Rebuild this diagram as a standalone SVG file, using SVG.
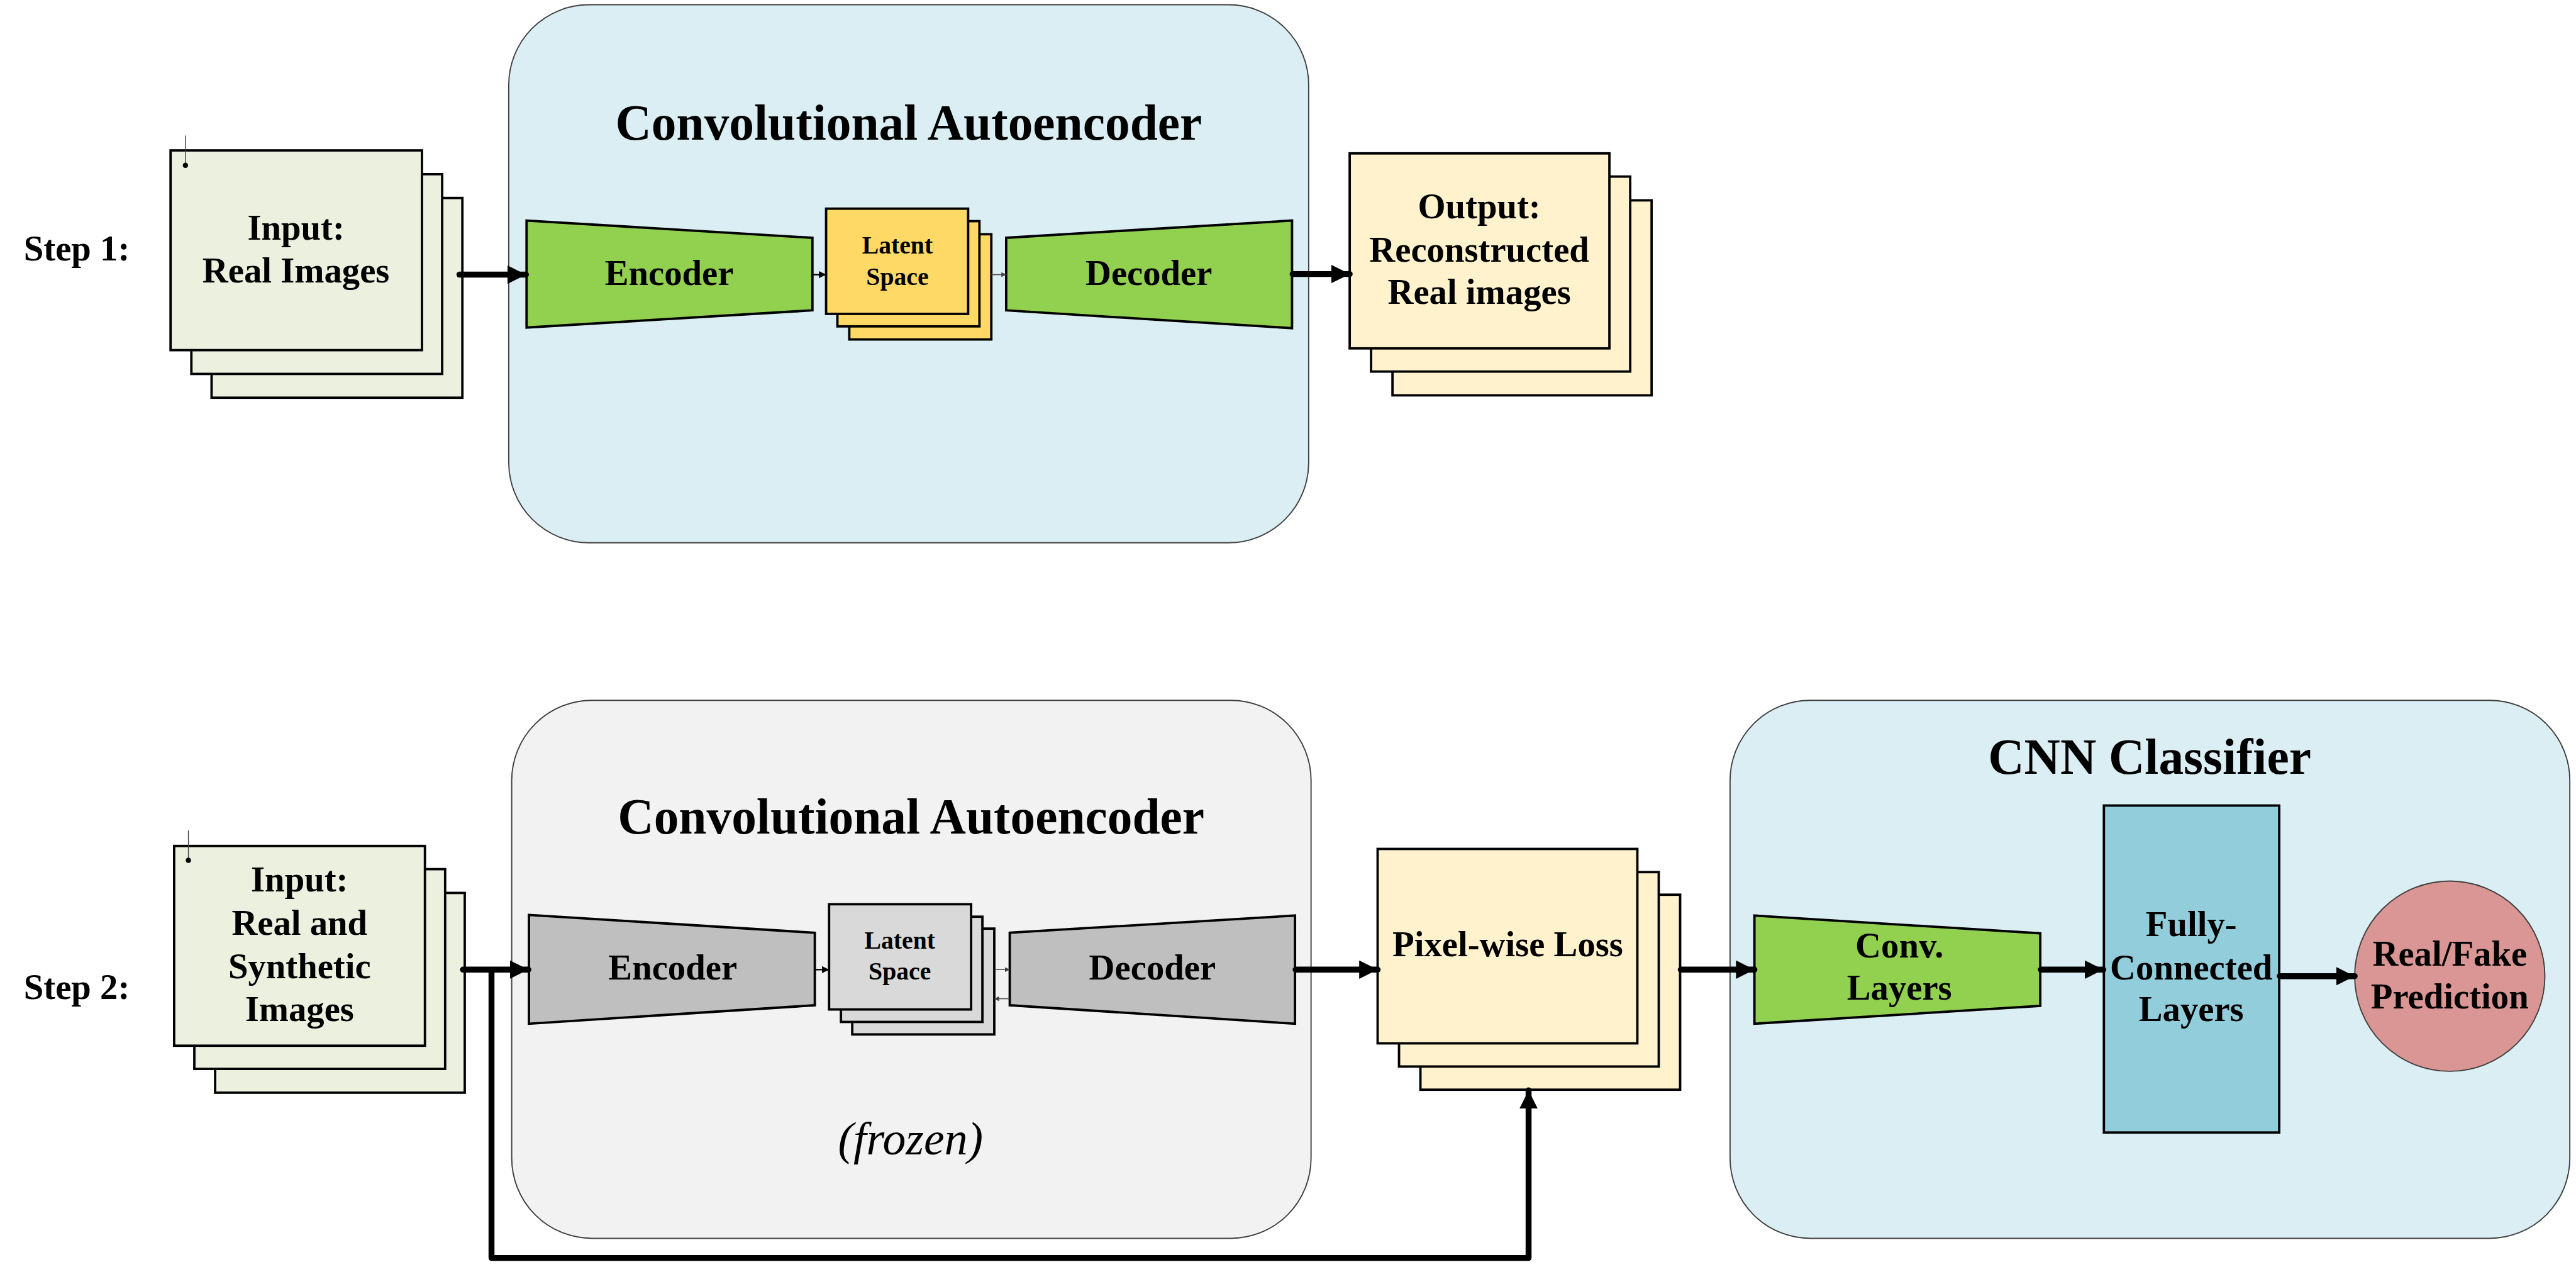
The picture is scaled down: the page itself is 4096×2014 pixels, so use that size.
<svg xmlns="http://www.w3.org/2000/svg" width="4096" height="2014" viewBox="0 0 4096 2014">
<style>
text{font-family:"Liberation Serif","Times New Roman",serif;font-weight:bold;fill:#000;text-anchor:middle}
.t60{font-size:60px}
.t84{font-size:84px}
.t42{font-size:42px}
.it{font-weight:normal;font-style:italic;font-size:78px}
.cont{stroke:#404040;stroke-width:2}
.box{stroke:#000;stroke-width:4;stroke-linejoin:miter}
.conn{fill:none;stroke:#000;stroke-width:10;stroke-linecap:round}
.small{fill:none;stroke:#000;stroke-width:2.5}
.tiny{fill:none;stroke:#404040;stroke-width:1.5}
.hair{fill:none;stroke:#404040;stroke-width:1.5}
</style>
<defs>
<marker id="ah" markerUnits="userSpaceOnUse" viewBox="0 0 31 31" refX="31" refY="15.5" markerWidth="31" markerHeight="31" orient="auto"><path d="M0,0 L31,15.5 L0,31 z" fill="#000"/></marker>
<marker id="ahs" markerUnits="userSpaceOnUse" viewBox="0 0 12 12" refX="12" refY="6" markerWidth="12" markerHeight="12" orient="auto"><path d="M0,0 L12,6 L0,12 z" fill="#000"/></marker>
<marker id="aht" markerUnits="userSpaceOnUse" viewBox="0 0 8 8" refX="8" refY="4" markerWidth="8" markerHeight="8" orient="auto"><path d="M0,0 L8,4 L0,8 z" fill="#404040"/></marker>
<marker id="dot" markerUnits="userSpaceOnUse" viewBox="0 0 10 10" refX="5" refY="5" markerWidth="10" markerHeight="10"><circle cx="5" cy="5" r="4.5" fill="#000"/></marker>
</defs>
<rect width="4096" height="2014" fill="#fff"/>
<g transform="scale(0.945)">
<!-- containers -->
<g id="cae1">
<rect x="856" y="8" width="1346" height="905" rx="135" ry="135" fill="#DAEEF3" class="cont"/>
<text class="t84" x="1529" y="235">Convolutional Autoencoder</text>
</g>
<g id="cae2">
<rect x="861" y="1178" width="1345" height="905" rx="135" ry="135" fill="#F2F2F2" class="cont"/>
<text class="t84" x="1533" y="1402">Convolutional Autoencoder</text>
<text class="it" x="1532" y="1942">(frozen)</text>
</g>
<g id="cnn">
<rect x="2911" y="1178" width="1413" height="905" rx="135" ry="135" fill="#DAEEF3" class="cont"/>
<text class="t84" x="3617" y="1302">CNN Classifier</text>
</g>
<!-- labels -->
<g id="step1"><text class="t60" x="40" y="438" style="text-anchor:start">Step 1:</text></g>
<g id="step2"><text class="t60" x="40" y="1680" style="text-anchor:start">Step 2:</text></g>
<!-- step 1 nodes -->
<g id="input1">
<rect x="356" y="333" width="422" height="336" fill="#EBF1DE" class="box"/>
<rect x="322" y="293" width="422" height="336" fill="#EBF1DE" class="box"/>
<rect x="287" y="253" width="423" height="336" fill="#EBF1DE" class="box"/>
<text class="t60" x="498" y="403">Input:</text>
<text class="t60" x="498" y="475">Real Images</text>
</g>
<g id="encoder1">
<polygon points="886,371 1367,400 1367,522 886,551" fill="#92D050" class="box"/>
<text class="t60" x="1126" y="479">Encoder</text>
</g>
<g id="latent1">
<rect x="1429" y="394" width="239" height="177" fill="#FFD966" class="box"/>
<rect x="1409" y="372" width="239" height="177" fill="#FFD966" class="box"/>
<rect x="1390" y="351" width="239" height="177" fill="#FFD966" class="box"/>
<text class="t42" x="1510" y="427">Latent</text>
<text class="t42" x="1510" y="479">Space</text>
</g>
<g id="decoder1">
<polygon points="1693,400 2174,371 2174,552 1693,522" fill="#92D050" class="box"/>
<text class="t60" x="1933" y="479">Decoder</text>
</g>
<g id="output1">
<rect x="2343" y="337" width="436" height="328" fill="#FFF2CC" class="box"/>
<rect x="2307" y="297" width="436" height="328" fill="#FFF2CC" class="box"/>
<rect x="2271" y="258" width="437" height="328" fill="#FFF2CC" class="box"/>
<text class="t60" x="2489" y="367">Output:</text>
<text class="t60" x="2489" y="440">Reconstructed</text>
<text class="t60" x="2489" y="511">Real images</text>
</g>
<!-- step 2 nodes -->
<g id="input2">
<rect x="362" y="1502" width="420" height="336" fill="#EBF1DE" class="box"/>
<rect x="327" y="1462" width="422" height="336" fill="#EBF1DE" class="box"/>
<rect x="293" y="1423" width="422" height="336" fill="#EBF1DE" class="box"/>
<text class="t60" x="504" y="1500">Input:</text>
<text class="t60" x="504" y="1572">Real and</text>
<text class="t60" x="504" y="1645">Synthetic</text>
<text class="t60" x="504" y="1717">Images</text>
</g>
<g id="encoder2">
<polygon points="890,1539 1371,1569 1371,1691 890,1722" fill="#BFBFBF" class="box"/>
<text class="t60" x="1132" y="1648">Encoder</text>
</g>
<g id="latent2">
<rect x="1434" y="1562" width="239" height="178" fill="#D9D9D9" class="box"/>
<rect x="1415" y="1542" width="238" height="177" fill="#D9D9D9" class="box"/>
<rect x="1395" y="1521" width="239" height="177" fill="#D9D9D9" class="box"/>
<text class="t42" x="1514" y="1596">Latent</text>
<text class="t42" x="1514" y="1648">Space</text>
</g>
<g id="decoder2">
<polygon points="1699,1569 2179,1540 2179,1722 1699,1691" fill="#BFBFBF" class="box"/>
<text class="t60" x="1939" y="1648">Decoder</text>
</g>
<g id="pixelloss">
<rect x="2390" y="1505" width="437" height="328" fill="#FFF2CC" class="box"/>
<rect x="2354" y="1467" width="437" height="327" fill="#FFF2CC" class="box"/>
<rect x="2318" y="1428" width="437" height="327" fill="#FFF2CC" class="box"/>
<text class="t60" x="2537" y="1609">Pixel-wise Loss</text>
</g>
<g id="conv">
<polygon points="2952,1540 3433,1570 3433,1692 2952,1722" fill="#92D050" class="box"/>
<text class="t60" x="3196" y="1611">Conv.</text>
<text class="t60" x="3196" y="1682">Layers</text>
</g>
<g id="fc">
<rect x="3540" y="1355" width="295" height="550" fill="#92CDDC" class="box"/>
<text class="t60" x="3687" y="1575">Fully-</text>
<text class="t60" x="3687" y="1648">Connected</text>
<text class="t60" x="3687" y="1718">Layers</text>
</g>
<g id="prediction">
<ellipse cx="4122" cy="1642" rx="160" ry="160" fill="#D99694" stroke="#404040" stroke-width="2"/>
<text class="t60" x="4122" y="1624">Real/Fake</text>
<text class="t60" x="4122" y="1696">Prediction</text>
</g>
<!-- connectors -->
<g id="connectors">
<path class="hair" d="M312,228 V278" marker-end="url(#dot)"/>
<path class="hair" d="M317,1397 V1447" marker-end="url(#dot)"/>
<path class="conn" d="M773,462 H885" marker-end="url(#ah)"/>
<path class="small" d="M1367,462 H1390" marker-end="url(#ahs)"/>
<path class="tiny" d="M1668,462 H1693" marker-end="url(#aht)"/>
<path class="conn" d="M2175,461 H2271" marker-end="url(#ah)"/>
<path class="conn" d="M779,1631 H889" marker-end="url(#ah)"/>
<path class="small" d="M1371,1631 H1395" marker-end="url(#ahs)"/>
<path class="tiny" d="M1673,1631 H1699" marker-end="url(#aht)"/>
<path class="tiny" d="M1699,1680 H1673" marker-end="url(#aht)"/>
<path class="conn" d="M2180,1631 H2318" marker-end="url(#ah)"/>
<path class="conn" style="stroke-linejoin:round" d="M827,1633 V2116 H2572 V1834" marker-end="url(#ah)"/>
<path class="conn" d="M2828,1631 H2952" marker-end="url(#ah)"/>
<path class="conn" d="M3434,1631 H3539" marker-end="url(#ah)"/>
<path class="conn" d="M3836,1642 H3962" marker-end="url(#ah)"/>
</g>
</g>
</svg>
